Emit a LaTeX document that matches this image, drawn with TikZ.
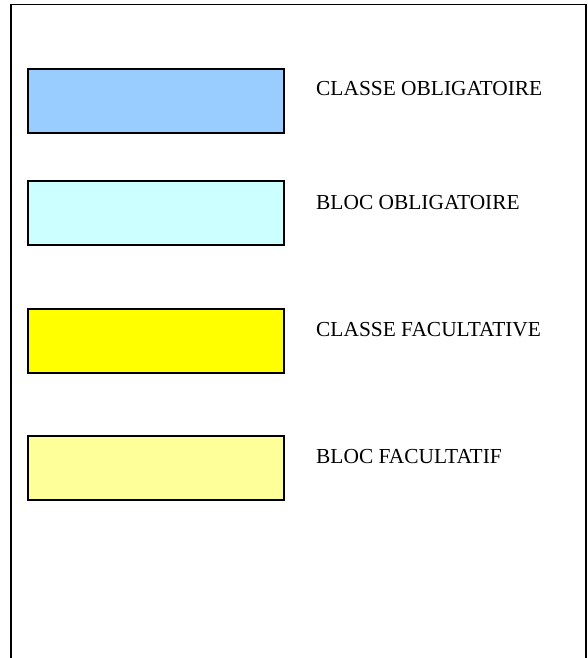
\documentclass[tikz,border=0pt]{standalone}
\usepackage{fontspec}
\setmainfont{Liberation Serif}
\definecolor{cobl}{HTML}{99CCFF}
\definecolor{bobl}{HTML}{CCFFFF}
\definecolor{cfac}{HTML}{FFFF00}
\definecolor{bfac}{HTML}{FFFF99}
\begin{document}
\begin{tikzpicture}[x=1pt,y=-1pt,
  legbox/.style={draw=black,line width=1.8pt,minimum width=256pt,minimum height=64pt,inner sep=0pt,anchor=north west},
  legtext/.style={anchor=base west,inner sep=0pt,font=\fontsize{21.4}{25}\selectfont}]
\useasboundingbox (0,0) rectangle (587,658);
\coordinate (bl) at (11,658);
\coordinate (tl) at (11,4.5);
\coordinate (tr) at (586,4.5);
\coordinate (br) at (586,658);
\draw[line width=1.8pt] (bl) -- (tl) -- (tr) -- (br);
\node[legbox,fill=cobl] (b1) at (27,68) {};
\node[legbox,fill=bobl] (b2) at (27,180) {};
\node[legbox,fill=cfac] (b3) at (27,308) {};
\node[legbox,fill=bfac] (b4) at (27,435) {};
\node[legtext] (t1) at (316,96) {CLASSE OBLIGATOIRE};
\node[legtext] (t2) at (316,209) {BLOC OBLIGATOIRE};
\node[legtext] (t3) at (316,336) {CLASSE FACULTATIVE};
\node[legtext] (t4) at (316,463) {BLOC FACULTATIF};
\end{tikzpicture}
\end{document}
